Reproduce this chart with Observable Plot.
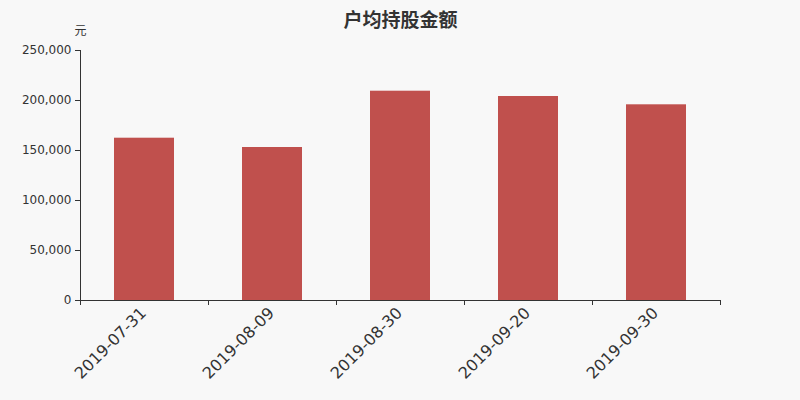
<!DOCTYPE html>
<html>
<head>
<meta charset="utf-8">
<script src="https://cdn.jsdelivr.net/npm/d3@7"></script>
<script src="https://cdn.jsdelivr.net/npm/@observablehq/plot@0.6"></script>
<style>
  html, body { margin: 0; padding: 0; background: #f8f8f8; }
  #chart { width: 800px; height: 400px; }
</style>
</head>
<body>
<div id="chart"></div>
<script>
const dates = ["2019-07-31", "2019-08-09", "2019-08-30", "2019-09-20", "2019-09-30"];
const values = [162300, 153000, 209300, 204000, 195700];
const yTicks = [0, 50000, 100000, 150000, 200000, 250000];
const title = "户均持股金额";
const unit = "元";

const data = dates.map((d, i) => ({date: d, i, value: values[i]}));
const font = "'DejaVu Sans', sans-serif";
const cjk = "'Noto Sans CJK SC', sans-serif";

const chart = Plot.plot({
  width: 800,
  height: 400,
  marginTop: 50,
  marginRight: 80,
  marginBottom: 100,
  marginLeft: 80,
  style: {background: "#f8f8f8", fontFamily: font, color: "#333"},
  x: {type: "linear", domain: [0, dates.length], axis: null},
  y: {domain: [0, 250000], axis: null},
  marks: [
    Plot.rectY(data, {x1: d => d.i, x2: d => d.i + 1, y: "value", insetLeft: 34, insetRight: 34, fill: "#c0504d"}),
    Plot.ruleX([0], {stroke: "#333", strokeWidth: 1}),
    Plot.ruleY([0], {stroke: "#333", strokeWidth: 1}),
    Plot.axisY({ticks: yTicks, tickFormat: d3.format(","), tickSize: 5, tickPadding: 4, fontSize: 12, stroke: "#333", fill: "#333", label: null}),
    Plot.axisX({ticks: d3.range(dates.length + 1), tickFormat: () => "", tickSize: 5, stroke: "#333", label: null}),
    Plot.text(data, {x: d => d.i + 0.5, y: 0, text: "date", rotate: -45, textAnchor: "end", dy: 10, dx: -1, fontSize: 16, fill: "#333", fontFamily: font}),
    Plot.text([title], {frameAnchor: "top", dy: -37, fontSize: 19, fontWeight: "bold", fill: "#333", fontFamily: cjk}),
    Plot.text([unit], {frameAnchor: "top-left", dy: -24, textAnchor: "middle", fontSize: 12, fill: "#333", fontFamily: cjk})
  ]
});
document.getElementById("chart").appendChild(chart);
</script>
</body>
</html>
